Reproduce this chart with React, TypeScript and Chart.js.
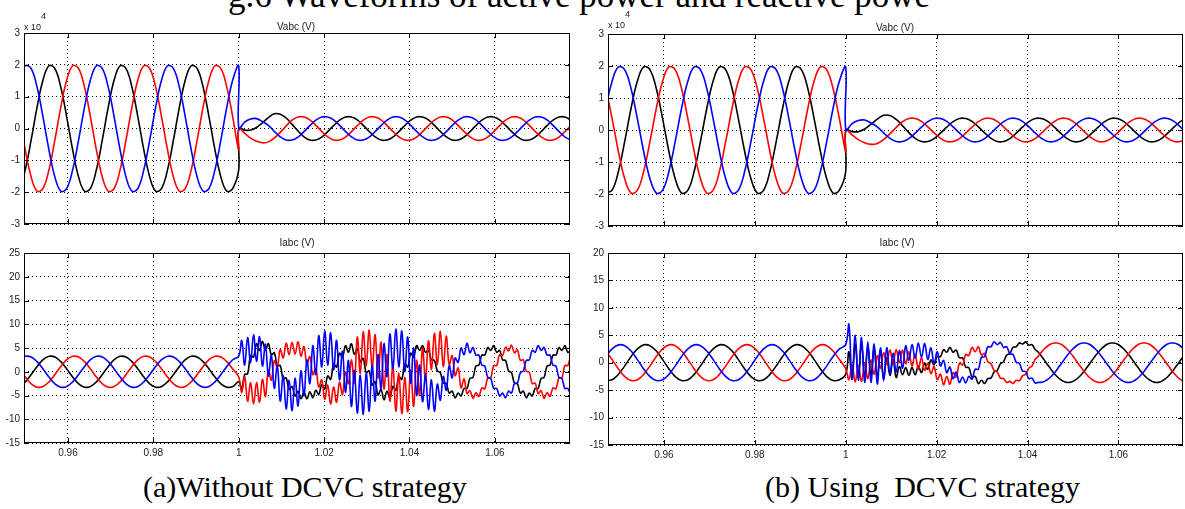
import React, { useEffect, useRef } from "react";
import { Chart, registerables } from "chart.js";

Chart.register(...registerables);

// ---------- sampling grids (seconds) ----------
const PRE_T0 = 0.95 - 2 / 720; // first pre-fault sample
const PRE_DT = 1 / 720; // 30 el. degrees at 60 Hz
const V_POST_DT = 1 / 720;
const I_POST_DT = 1 / 1440;
const T_FAULT = 1.0;

// ---------- axes ----------
const X_TICKS = [0.96, 0.98, 1, 1.02, 1.04, 1.06];
const X_TICK_LABELS = ["0.96", "0.98", "1", "1.02", "1.04", "1.06"];
const V_TICKS = [-3, -2, -1, 0, 1, 2, 3];
const I_TICKS_A = [-15, -10, -5, 0, 5, 10, 15, 20, 25];
const I_TICKS_B = [-15, -10, -5, 0, 5, 10, 15, 20];

// ---------- Vabc (x10^4), pre-fault ----------
const V_BLUE_PRE = [0.68, 1.53,
  1.97, 1.88, 1.29, 0.35, -0.68, -1.53, -1.97, -1.88, -1.29, -0.35, 0.68, 1.53,
  1.97, 1.88, 1.29, 0.35, -0.68, -1.53, -1.97, -1.88, -1.29, -0.35, 0.68, 1.53,
  1.97, 1.88, 1.29, 0.35, -0.68, -1.53, -1.97, -1.88, -1.29, -0.35, 0.68, 1.53,
  1.97];
const V_BLACK_PRE = [-1.97, -1.88,
  -1.29, -0.35, 0.68, 1.53, 1.97, 1.88, 1.29, 0.35, -0.68, -1.53, -1.97, -1.88,
  -1.29, -0.35, 0.68, 1.53, 1.97, 1.88, 1.29, 0.35, -0.68, -1.53, -1.97, -1.88,
  -1.29, -0.35, 0.68, 1.53, 1.97, 1.88, 1.29, 0.35, -0.68, -1.53, -1.97, -1.88,
  -1.29];
const V_RED_PRE = [1.29, 0.35,
  -0.68, -1.53, -1.97, -1.88, -1.29, -0.35, 0.68, 1.53, 1.97, 1.88, 1.29, 0.35,
  -0.68, -1.53, -1.97, -1.88, -1.29, -0.35, 0.68, 1.53, 1.97, 1.88, 1.29, 0.35,
  -0.68, -1.53, -1.97, -1.88, -1.29, -0.35, 0.68, 1.53, 1.97, 1.88, 1.29, 0.35,
  -0.68];

// ---------- Vabc (x10^4), post-fault ----------
const V_BLUE_POST = [0.0, 0.2, 0.3, 0.31, 0.22, 0.1, -0.09, -0.26, -0.36, -0.36, -0.27, -0.1,
  0.09, 0.26, 0.36, 0.36, 0.27, 0.1, -0.09, -0.26, -0.36, -0.36, -0.27, -0.1,
  0.09, 0.26, 0.36, 0.36, 0.27, 0.1, -0.09, -0.26, -0.36, -0.36, -0.27, -0.1,
  0.09, 0.26, 0.36, 0.36, 0.27, 0.1, -0.09, -0.26, -0.36, -0.36, -0.27, -0.1,
  0.09, 0.26, 0.36, 0.36, 0.27, 0.1, -0.09, -0.26, -0.36];
const V_BLACK_POST = [0.0, -0.05, -0.05, 0.03, 0.18, 0.34, 0.46, 0.45, 0.33, 0.13, -0.08, -0.26,
  -0.36, -0.36, -0.27, -0.1, 0.09, 0.26, 0.36, 0.36, 0.27, 0.1, -0.09, -0.26,
  -0.36, -0.36, -0.27, -0.1, 0.09, 0.26, 0.36, 0.36, 0.27, 0.1, -0.09, -0.26,
  -0.36, -0.36, -0.27, -0.1, 0.09, 0.26, 0.36, 0.36, 0.27, 0.1, -0.09, -0.26,
  -0.36, -0.36, -0.27, -0.1, 0.09, 0.26, 0.36, 0.36, 0.27];
const V_RED_POST = [0.0, -0.15, -0.3, -0.4, -0.45, -0.42, -0.3, -0.12, 0.08, 0.26, 0.36, 0.36,
  0.27, 0.1, -0.09, -0.26, -0.36, -0.36, -0.27, -0.1, 0.09, 0.26, 0.36, 0.36,
  0.27, 0.1, -0.09, -0.26, -0.36, -0.36, -0.27, -0.1, 0.09, 0.26, 0.36, 0.36,
  0.27, 0.1, -0.09, -0.26, -0.36, -0.36, -0.27, -0.1, 0.09, 0.26, 0.36, 0.36,
  0.27, 0.1, -0.09, -0.26, -0.36, -0.36, -0.27, -0.1, 0.09];

// ---------- Iabc, pre-fault ----------
const I_BLUE_PRE = [1.13, 2.53,
  3.25, 3.1, 2.12, 0.57, -1.13, -2.53, -3.25, -3.1, -2.12, -0.57, 1.13, 2.53,
  3.25, 3.1, 2.12, 0.57, -1.13, -2.53, -3.25, -3.1, -2.12, -0.57, 1.13, 2.53,
  3.25, 3.1, 2.12, 0.57, -1.13, -2.53, -3.25, -3.1, -2.12, -0.57, 1.13, 2.53,
  3.25];
const I_BLACK_PRE = [-3.25, -3.1,
  -2.12, -0.57, 1.13, 2.53, 3.25, 3.1, 2.12, 0.57, -1.13, -2.53, -3.25, -3.1,
  -2.12, -0.57, 1.13, 2.53, 3.25, 3.1, 2.12, 0.57, -1.13, -2.53, -3.25, -3.1,
  -2.12, -0.57, 1.13, 2.53, 3.25, 3.1, 2.12, 0.57, -1.13, -2.53, -3.25, -3.1,
  -2.12];
const I_RED_PRE = [2.12, 0.57,
  -1.13, -2.53, -3.25, -3.1, -2.12, -0.57, 1.13, 2.53, 3.25, 3.1, 2.12, 0.57,
  -1.13, -2.53, -3.25, -3.1, -2.12, -0.57, 1.13, 2.53, 3.25, 3.1, 2.12, 0.57,
  -1.13, -2.53, -3.25, -3.1, -2.12, -0.57, 1.13, 2.53, 3.25, 3.1, 2.12, 0.57,
  -1.13];

// ---------- Iabc, post-fault, (a) without DCVC ----------
const IA_BLUE_POST = [3.3, 6.6, 1.4, 7.2, 1.9, 7.8, 2.2, 7.4, 1.2, 5.8, -0.9, 3.5, -3.5,
  1.3, -6.2, -0.8, -7.8, -1.8, -8.2, -1.4, -7.2, 0.2, -5.1, 2.5, -2.5,
  5.5, -0.6, 7.6, 1.0, 8.6, 1.4, 8.2, 0.4, 6.6, -1.7, 4.3, -4.3,
  2.4, -7.3, 0.3, -8.7, -0.7, -9.0, -0.3, -8.3, 1.3, -6.2, 3.6, -3.6,
  5.9, -1.0, 8.0, 0.6, 9.0, 1.0, 8.6, 0.0, 7.3, -2.4, 5.0, -5.0,
  1.4, -6.3, -0.7, -7.9, -1.7, -8.3, -2.6, -6.0, -1.0, -3.9, 1.3, -1.3,
  2.9, 2.0, 5.0, 3.6, 6.0, 4.0, 5.1, 3.5, 3.5, 1.4, 1.2, -1.2,
  -1.4, -3.5, -3.5, -5.1, -4.5, -5.5, -4.1, -4.5, -2.5, -2.4, -0.2, 0.2,
  2.4, 2.5, 4.5, 4.1, 5.5, 4.5, 5.1, 3.5, 3.5, 1.4, 1.2, -1.2,
  -1.4, -3.5, -3.5, -5.1];
const IA_BLACK_POST = [-2.1, -3.7, -0.6, -0.4, 3.4, 3.1, 5.9, 4.5, 6.4, 4.5, 5.9,
  3.6, 4.0, 1.3, 1.3, -1.5, -1.3, -3.7, -3.1, -5.1, -4.1, -5.7, -4.3, -5.7, -4.2, -5.5, -3.9, -4.8, -2.7,
  -3.6, -0.9, -1.6, 1.6, 1.0, 3.9, 3.1, 5.5, 4.1, 5.9, 3.7, 4.9, 2.1, 2.8, -0.2, 0.2,
  -2.8, -2.1, -4.9, -3.7, -5.9, -4.1, -5.5, -3.1, -3.9, -1.0, -1.6, 1.6, 1.0, 3.9, 3.1, 5.5,
  4.5, 5.5, 4.1, 4.5, 2.5, 2.4, 0.2, -0.2, -2.4, -2.5, -4.5, -4.1,
  -5.5, -4.5, -5.1, -3.5, -3.5, -1.4, -1.2, 1.2, 1.4, 3.5, 3.5, 5.1,
  4.5, 5.5, 4.1, 4.5, 2.5, 2.4, 0.2, -0.2, -2.4, -2.5, -4.5, -4.1,
  -5.5, -4.5, -5.1, -3.5, -3.5, -1.4, -1.2, 1.2, 1.4, 3.5, 3.5, 5.1,
  4.5, 5.5, 4.1, 4.5];
const IA_RED_POST = [-1.1, -4.4, -1.0, -6.2, -2.3, -6.8, -2.3, -6.4, -1.6, -5.2, 0.4,
  -1.8, 2.3, 1.0, 4.7, 2.9, 6.0, 3.6, 6.2, 3.7, 6.3, 3.3, 5.3, 1.7, 3.2, -0.6, 0.6, -3.2, -1.7,
  -5.8, -2.8, -6.8, -3.2, -6.4, -2.2, -4.8, -0.1, -2.5, 2.5,
  -2.4, 7.3, -0.3, 8.4, 1.2, 8.8, 0.8, 7.8, -1.3, 6.2, -3.6, 3.6,
  -6.2, 1.3, -8.3, -0.3, -8.8, -1.2, -8.4, 0.3, -7.3, 2.4, -5.0, 5.0,
  -1.6, 6.5, 0.5, 8.1, 1.5, 8.5, 1.1, 7.5,
  1.5, 3.4, -0.8, 0.8, -3.4, -1.5,
  -4.6, -4.0, -5.6, -4.4, -5.2, -3.4, -3.6, -1.3, -1.3, 1.3, 1.3, 3.6,
  3.4, 5.2, 4.4, 5.6, 4.0, 4.6, 2.4, 2.5, 0.1, -0.1, -2.5, -2.4,
  -4.6, -4.0, -5.6, -4.4, -5.2, -3.4, -3.6, -1.3, -1.3, 1.3, 1.3, 3.6];

// ---------- Iabc, post-fault, (b) using DCVC ----------
const IB_BLUE_POST = [3.3, 7.0, -3.0, 5.0, -3.2, 4.6, -3.6, 3.8, -3.6, 3.4, -3.9, 2.7, -3.3,
  2.7, -2.0, 1.7, -1.7, 2.2, -1.0, 3.1,
  0.4, 3.3, 0.9, 3.6, 1.0, 3.5, 0.6, 2.7, -0.1, 2.0,
  -0.6, 0.4, -1.8, -0.8, -2.9, -1.7, -3.6,
  -2.6, -3.7, -2.5, -3.0, -1.2, -1.2, 1.0, 1.1,
  2.9, 2.9, 3.8, 3.3,
  3.7, 2.8, 2.9, 1.6, 1.5, 0.1, -0.1, -1.5, -1.6, -2.9, -2.8, -3.7,
  -3.58, -3.58, -3.4, -3.05, -2.55, -1.92, -1.19, -0.4, 0.4, 1.19, 1.92, 2.55, 3.05, 3.4, 3.58,
  3.58, 3.4, 3.05, 2.55, 1.92, 1.19, 0.4, -0.4, -1.19, -1.92, -2.55, -3.05, -3.4, -3.58,
  -3.58, -3.4, -3.05, -2.55, -1.92, -1.19, -0.4, 0.4, 1.19, 1.92, 2.55, 3.05, 3.4, 3.58,
  3.58, 3.4, 3.05, 2.55];
const IB_BLACK_POST = [-2.1, 2.0, -3.0, 3.4, -2.5, 3.5, -2.6, 2.8, -2.3, 2.6, -2.5, 2.3, -2.9,
  0.9, -2.3, 0.5, -2.7,
  -0.7, -2.2, -0.9, -2.3, -0.9, -2.2, -0.6, -1.8, -0.1, -1.2, 0.5,
  -0.4, 1.2, 1.1, 2.4, 1.9, 2.8, 1.9, 2.3, 0.9, 0.9, -0.8, -0.9, -2.6, -2.5, -3.8, -3.2, -3.8,
  -2.9, -2.8, -1.7, -1.4, -0.2, 0.2, 1.4, 1.7, 2.8, 2.9, 3.6, 3.4, 3.8, 3.2, 3.3, 2.4,
  1.92, 1.19, 0.4, -0.4, -1.19, -1.92, -2.55, -3.05, -3.4, -3.58, -3.58, -3.4,
  -3.05, -2.55, -1.92, -1.19, -0.4, 0.4, 1.19, 1.92, 2.55, 3.05, 3.4, 3.58, 3.58, 3.4,
  3.05, 2.55, 1.92, 1.19, 0.4, -0.4, -1.19, -1.92, -2.55, -3.05, -3.4, -3.58, -3.58, -3.4,
  -3.05, -2.55, -1.92, -1.19, -0.4, 0.4, 1.19];
const IB_RED_POST = [-1.1, -3.1, -0.4, -3.5, -0.5, -3.4, -0.2, -2.9, 0.5, -2.1, 1.3,
  -1.0, 1.8, -0.3, 2.3, 0.0, 2.4, 0.0, 2.3, -0.2, 2.0, -0.6, 1.5, -1.2, 0.9,
  -1.4, -0.1, -2.0, -0.7, -3.1, -2.1, -4.0, -2.5, -3.9, -1.8, -2.6, -0.1,
  -0.4, 1.5, 1.3, 2.8, 2.0, 2.9, 1.4, 1.7,
  0.2, -0.2, -1.4, -1.7, -2.8, -2.9, -3.6, -3.4, -3.8, -3.2, -3.3, -2.4, -2.1, -1.0, -0.6, 0.6,
  1.19, 1.92, 2.55, 3.05, 3.4, 3.58, 3.58, 3.4, 3.05, 2.55, 1.92, 1.19, 0.4, -0.4,
  -1.19, -1.92, -2.55, -3.05, -3.4, -3.58, -3.58, -3.4, -3.05, -2.55, -1.92, -1.19, -0.4, 0.4,
  1.19, 1.92, 2.55, 3.05, 3.4, 3.58, 3.58, 3.4, 3.05, 2.55, 1.92, 1.19, 0.4, -0.4,
  -1.19, -1.92, -2.55, -3.05, -3.4];

const BLUE = "#0000ff";
const RED = "#ff0000";
const BLACK = "#000000";

type Pt = { x: number; y: number };

function grid(t0: number, dt: number, n: number): number[] {
  const out: number[] = [];
  for (let i = 0; i < n; i++) out.push(t0 + i * dt);
  return out;
}

function joinSeries(pre: number[], post: number[], postDt: number, keepPreLast: boolean): Pt[] {
  const tPre = grid(PRE_T0, PRE_DT, pre.length);
  const tPost = grid(T_FAULT, postDt, post.length);
  const pts: Pt[] = [];
  const nPre = keepPreLast ? pre.length : pre.length - 1;
  for (let i = 0; i < nPre; i++) pts.push({ x: tPre[i], y: pre[i] });
  for (let i = 0; i < post.length; i++) pts.push({ x: tPost[i], y: post[i] });
  return pts;
}

const framePlugin = {
  id: "matlabFrame",
  afterDraw(chart: any) {
    const { ctx, chartArea: a, scales } = chart;
    ctx.save();
    ctx.strokeStyle = "#000";
    ctx.lineWidth = 1;
    ctx.strokeRect(Math.round(a.left) + 0.5, Math.round(a.top) + 0.5, Math.round(a.right - a.left) - 1, Math.round(a.bottom - a.top) - 1);
    ctx.beginPath();
    const xs = scales.x;
    const ys = scales.y;
    xs.ticks.forEach((t: any) => {
      const px = Math.round(xs.getPixelForValue(t.value)) + 0.5;
      ctx.moveTo(px, a.bottom);
      ctx.lineTo(px, a.bottom - 5);
      ctx.moveTo(px, a.top);
      ctx.lineTo(px, a.top + 5);
    });
    ys.ticks.forEach((t: any) => {
      const py = Math.round(ys.getPixelForValue(t.value)) + 0.5;
      ctx.moveTo(a.left, py);
      ctx.lineTo(a.left + 5, py);
      ctx.moveTo(a.right, py);
      ctx.lineTo(a.right - 5, py);
    });
    ctx.stroke();
    ctx.restore();
  },
};

type PanelCfg = {
  left: number; top: number; width: number; height: number;
  pad: { top: number; right: number; bottom: number };
  yw: number; xh: number;
  xMin: number; xMax: number; yMin: number; yMax: number;
  yTicks: number[]; showX: boolean;
  series: { color: string; data: Pt[] }[];
};

function Panel({ cfg }: { cfg: PanelCfg }) {
  const ref = useRef<HTMLCanvasElement>(null);
  useEffect(() => {
    const tickFont = { family: "Arial, 'Liberation Sans', sans-serif", size: 10 };
    const chart = new Chart(ref.current as HTMLCanvasElement, {
      type: "line",
      data: {
        datasets: cfg.series.map((s) => ({
          data: s.data,
          borderColor: s.color,
          backgroundColor: s.color,
          borderWidth: 1.6,
          pointRadius: 0,
          tension: 0.4,
          fill: false,
        })),
      },
      options: {
        animation: false,
        responsive: false,
        devicePixelRatio: 1,
        events: [],
        layout: { padding: { left: 0, top: cfg.pad.top, right: cfg.pad.right, bottom: cfg.pad.bottom } },
        plugins: { legend: { display: false }, tooltip: { enabled: false }, title: { display: false } },
        scales: {
          x: {
            type: "linear",
            min: cfg.xMin,
            max: cfg.xMax,
            afterBuildTicks: (s: any) => { s.ticks = X_TICKS.map((v) => ({ value: v })); },
            afterFit: (s: any) => { s.height = cfg.xh; },
            ticks: {
              display: cfg.showX,
              autoSkip: false,
              maxRotation: 0,
              padding: 4,
              color: "#222",
              font: tickFont,
              callback: (_v: any, i: number) => X_TICK_LABELS[i],
            },
            grid: { color: "#000", lineWidth: 1, drawTicks: false },
            border: { display: false, dash: [1, 3] },
          },
          y: {
            type: "linear",
            min: cfg.yMin,
            max: cfg.yMax,
            afterBuildTicks: (s: any) => { s.ticks = cfg.yTicks.map((v) => ({ value: v })); },
            afterFit: (s: any) => { s.width = cfg.yw; },
            ticks: {
              padding: 4,
              color: "#222",
              font: tickFont,
              callback: (v: any) => String(v),
            },
            grid: { color: "#000", lineWidth: 1, drawTicks: false },
            border: { display: false, dash: [1, 3] },
          },
        },
      } as any,
      plugins: [framePlugin],
    });
    return () => chart.destroy();
  }, [cfg]);
  return (
    <canvas
      ref={ref}
      width={cfg.width}
      height={cfg.height}
      style={{ position: "absolute", left: cfg.left, top: cfg.top, width: cfg.width, height: cfg.height }}
    />
  );
}

const vSeries = [
  { color: BLUE, data: joinSeries(V_BLUE_PRE, V_BLUE_POST, V_POST_DT, true) },
  { color: RED, data: joinSeries(V_RED_PRE, V_RED_POST, V_POST_DT, true) },
  { color: BLACK, data: joinSeries(V_BLACK_PRE, V_BLACK_POST, V_POST_DT, true) },
];
const iSeriesA = [
  { color: BLUE, data: joinSeries(I_BLUE_PRE, IA_BLUE_POST, I_POST_DT, false) },
  { color: RED, data: joinSeries(I_RED_PRE, IA_RED_POST, I_POST_DT, false) },
  { color: BLACK, data: joinSeries(I_BLACK_PRE, IA_BLACK_POST, I_POST_DT, false) },
];
const iSeriesB = [
  { color: BLUE, data: joinSeries(I_BLUE_PRE, IB_BLUE_POST, I_POST_DT, false) },
  { color: RED, data: joinSeries(I_RED_PRE, IB_RED_POST, I_POST_DT, false) },
  { color: BLACK, data: joinSeries(I_BLACK_PRE, IB_BLACK_POST, I_POST_DT, false) },
];

const PANELS: PanelCfg[] = [
  { left: 0, top: 23, width: 580, height: 211, pad: { top: 10, right: 10, bottom: 10 }, yw: 24, xh: 0,
    xMin: 0.9497, xMax: 1.0776, yMin: -3, yMax: 3, yTicks: V_TICKS, showX: false, series: vSeries },
  { left: 0, top: 243, width: 580, height: 222, pad: { top: 10, right: 10, bottom: 0 }, yw: 24, xh: 22,
    xMin: 0.9497, xMax: 1.0776, yMin: -15, yMax: 25, yTicks: I_TICKS_A, showX: true, series: iSeriesA },
  { left: 584, top: 24, width: 601, height: 212, pad: { top: 10, right: 2, bottom: 10 }, yw: 24, xh: 0,
    xMin: 0.9477, xMax: 1.0742, yMin: -3, yMax: 3, yTicks: V_TICKS, showX: false, series: vSeries },
  { left: 584, top: 243, width: 601, height: 224, pad: { top: 10, right: 2, bottom: 0 }, yw: 24, xh: 22,
    xMin: 0.9477, xMax: 1.0742, yMin: -15, yMax: 20, yTicks: I_TICKS_B, showX: true, series: iSeriesB },
];

const small: React.CSSProperties = {
  position: "absolute",
  fontFamily: "Arial, 'Liberation Sans', sans-serif",
  fontSize: 10,
  lineHeight: "10px",
  color: "#222",
  whiteSpace: "nowrap",
};

function Centered({ cx, top, text }: { cx: number; top: number; text: string }) {
  return (
    <div style={{ ...small, left: cx - 60, width: 120, top, textAlign: "center" }}>{text}</div>
  );
}

export default function App() {
  const serif = "'Times New Roman', 'Liberation Serif', serif";
  return (
    <div style={{ position: "absolute", left: 0, top: 0, width: 1185, height: 509, background: "#fff", overflow: "hidden" }}>
      <div style={{ position: "absolute", left: 0, top: 0, width: 934, height: 30, overflow: "hidden" }}>
        <div style={{ position: "absolute", left: 228, top: -22, fontFamily: serif, fontSize: 35, lineHeight: "35px", whiteSpace: "nowrap", color: "#000" }}>
          g.6 Waveforms of active power and reactive powe
        </div>
      </div>
      {PANELS.map((p, i) => (
        <Panel key={i} cfg={p} />
      ))}
      <div style={{ ...small, left: 24, top: 23, fontSize: 9, lineHeight: "9px" }}>x 10</div>
      <div style={{ ...small, left: 41, top: 12, fontSize: 9, lineHeight: "9px" }}>4</div>
      <div style={{ ...small, left: 608, top: 21, fontSize: 9, lineHeight: "9px" }}>x 10</div>
      <div style={{ ...small, left: 625, top: 10, fontSize: 9, lineHeight: "9px" }}>4</div>
      <Centered cx={296} top={22} text="Vabc (V)" />
      <Centered cx={895} top={23} text="Vabc (V)" />
      <Centered cx={297} top={238} text="Iabc (V)" />
      <Centered cx={897} top={238} text="Iabc (V)" />
      <div style={{ position: "absolute", left: 143, top: 472, fontFamily: serif, fontSize: 30, lineHeight: "30px", whiteSpace: "pre", color: "#000" }}>
        (a)Without DCVC strategy
      </div>
      <div style={{ position: "absolute", left: 765, top: 472, fontFamily: serif, fontSize: 30, lineHeight: "30px", whiteSpace: "pre", color: "#000" }}>
        (b) Using  DCVC strategy
      </div>
    </div>
  );
}
